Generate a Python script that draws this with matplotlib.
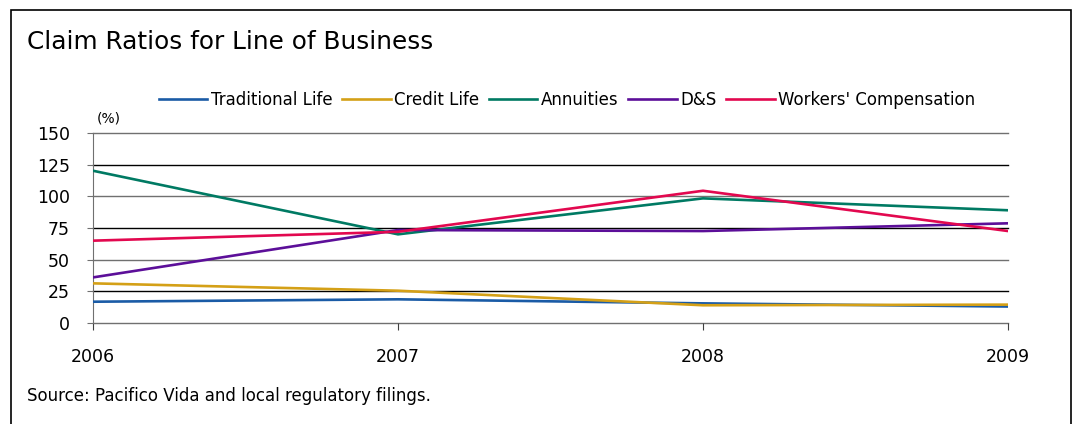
import matplotlib.pyplot as plt
from matplotlib.patches import Rectangle

years = [2006, 2007, 2008, 2009]
traditional_life = [16.8, 18.7, 15.5, 13.0]
credit_life = [31.3, 25.5, 14.0, 14.5]
annuities = [120.2, 70.0, 98.4, 89.0]
ds = [36.0, 73.4, 72.6, 78.7]
workers_comp = [65.0, 72.0, 104.4, 72.6]

series = [
    ('Traditional Life', traditional_life, '#1a5ba6'),
    ('Credit Life', credit_life, '#d4a017'),
    ('Annuities', annuities, '#007a63'),
    ('D&S', ds, '#5c0f99'),
    ("Workers' Compensation", workers_comp, '#e2084f'),
]
yticks = [0, 25, 50, 75, 100, 125, 150]

plt.rcParams['font.family'] = ['DejaVu Sans']
W, H = 1081, 424
fig = plt.figure(figsize=(W / 100, H / 100), dpi=100)
fig.patches.append(Rectangle((11 / W, -0.1), 1060 / W, 1.1 - 10 / H, transform=fig.transFigure,
                             fill=False, edgecolor='black', linewidth=1.2))

ax = fig.add_axes([93 / W, 1 - 323 / H, (1008 - 93) / W, 190 / H])
for y in yticks:
    c = '#000000' if y in (25, 75, 125) else '#707070'
    ax.axhline(y, color=c, linewidth=1.0, zorder=1, clip_on=False)
for name, vals, col in series:
    ax.plot(years, vals, color=col, linewidth=1.9, label=name, zorder=3)

ax.set_xlim(2006, 2009)
ax.set_ylim(0, 150)
ax.set_xticks(years)
ax.set_yticks(yticks)
for s in ['top', 'right', 'bottom']:
    ax.spines[s].set_visible(False)
ax.spines['left'].set_color('#707070')
ax.tick_params(axis='y', length=4.5, color='#707070', pad=12, labelsize=12.5)
ax.tick_params(axis='x', length=5, color='#404040', pad=13, labelsize=12.5)

fig.text(27 / W, 1 - 42 / H, 'Claim Ratios for Line of Business', fontsize=17.8,
         va='center', ha='left')
fig.text(97 / W, 1 - 118 / H, '(%)', fontsize=10, va='center', ha='left')
fig.text(27 / W, 1 - 396 / H, 'Source: Pacifico Vida and local regulatory filings.',
         fontsize=12, va='center', ha='left')

fig.legend(loc='center', bbox_to_anchor=(567 / W, 1 - 100 / H), ncol=5, frameon=False,
           fontsize=12, handlelength=2.9, handletextpad=0.2, columnspacing=0.6)

fig.savefig('out.png', dpi=100)
